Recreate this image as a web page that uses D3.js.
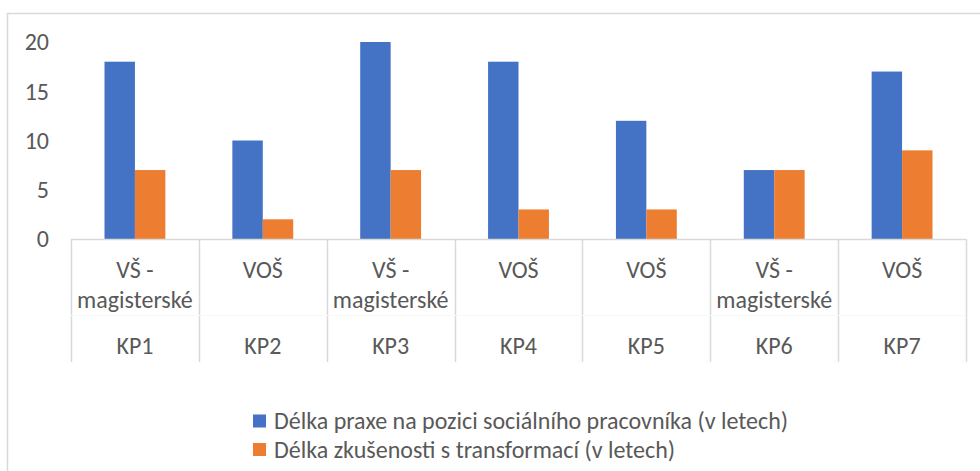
<!DOCTYPE html>
<html>
<head>
<meta charset="utf-8">
<script src="https://cdn.jsdelivr.net/npm/d3@7"></script>
<style>
  body { margin: 0; background: #fff; }
  text { font-family: Carlito, Calibri, "Liberation Sans", sans-serif; fill: #595959; }
</style>
</head>
<body>
<div id="chart"></div>
<script>
var categories = ["KP1", "KP2", "KP3", "KP4", "KP5", "KP6", "KP7"];
var education = [["VŠ -", "magisterské"], ["VOŠ"], ["VŠ -", "magisterské"], ["VOŠ"], ["VOŠ"], ["VŠ -", "magisterské"], ["VOŠ"]];
var seriesNames = ["Délka praxe na pozici sociálního pracovníka (v letech)", "Délka zkušenosti s transformací (v letech)"];
var praxe = [18, 10, 20, 18, 12, 7, 17];
var transformace = [7, 2, 7, 3, 3, 7, 9];
var yTicks = [0, 5, 10, 15, 20];
var colors = ["#4472c4", "#ed7d31"];

var width = 980, height = 471;
var svg = d3.select("#chart").append("svg")
  .attr("width", width)
  .attr("height", height);

// chart area border (cropped on the right and bottom)
svg.append("path")
  .attr("d", "M7.5," + height + "V13.5H" + width)
  .attr("fill", "none")
  .attr("stroke", "#d9d9d9")
  .attr("stroke-width", 1.5);

var y = d3.scaleLinear().domain([0, 20]).range([239, 42]);
var x = d3.scaleBand().domain(categories).range([71, 966])
  .paddingInner(0.524).paddingOuter(0.262);
var x1 = d3.scaleBand().domain([0, 1]).range([0, x.bandwidth()]);
var cell = d3.scaleBand().domain(categories).range([71, 966]);

var data = categories.map(function (c, i) {
  return { cat: c, values: [praxe[i], transformace[i]] };
});

// y tick labels
svg.selectAll(".ytick")
  .data(yTicks)
  .enter().append("text")
  .attr("class", "ytick")
  .attr("x", 49)
  .attr("y", function (d) { return y(d); })
  .attr("dy", "0.35em")
  .attr("text-anchor", "end")
  .style("font-size", "24px")
  .text(function (d) { return d; });

// bars
var groups = svg.selectAll(".grp")
  .data(data)
  .enter().append("g")
  .attr("class", "grp")
  .attr("transform", function (d) { return "translate(" + x(d.cat) + ",0)"; });

groups.selectAll("rect")
  .data(function (d) { return d.values; })
  .enter().append("rect")
  .attr("x", function (d, i) { return x1(i); })
  .attr("y", function (d) { return y(d); })
  .attr("width", x1.bandwidth())
  .attr("height", function (d) { return y(0) - y(d); })
  .attr("fill", function (d, i) { return colors[i]; });

// category axis
svg.append("line")
  .attr("x1", cell.range()[0]).attr("x2", cell.range()[1])
  .attr("y1", y(0) + 0.5).attr("y2", y(0) + 0.5)
  .attr("stroke", "#d9d9d9").attr("stroke-width", 1.5);

var bounds = categories.map(function (c) { return cell(c); }).concat([cell.range()[1]]);
svg.selectAll(".vtick")
  .data(bounds)
  .enter().append("line")
  .attr("class", "vtick")
  .attr("x1", function (d) { return Math.round(d) + 0.5; })
  .attr("x2", function (d) { return Math.round(d) + 0.5; })
  .attr("y1", y(0))
  .attr("y2", 362)
  .attr("stroke", "#d9d9d9").attr("stroke-width", 1.5);

svg.append("line")
  .attr("x1", cell.range()[0]).attr("x2", cell.range()[1])
  .attr("y1", 315.5).attr("y2", 315.5)
  .attr("stroke", "#f8f8f8").attr("stroke-width", 1);

var lab = svg.selectAll(".lab")
  .data(categories)
  .enter().append("g")
  .attr("class", "lab")
  .attr("transform", function (c) { return "translate(" + (cell(c) + cell.bandwidth() / 2) + ",0)"; });

lab.selectAll(".edu")
  .data(function (c, i) { return education[i]; })
  .enter().append("text")
  .attr("class", "edu")
  .attr("y", function (d, j) { return 270 + j * 30; })
  .attr("dy", "0.35em")
  .attr("text-anchor", "middle")
  .style("font-size", "24px")
  .text(function (d) { return d; });

lab.append("text")
  .attr("y", 346)
  .attr("dy", "0.35em")
  .attr("text-anchor", "middle")
  .style("font-size", "24px")
  .text(function (c) { return c; });

// legend
var leg = svg.selectAll(".leg")
  .data(seriesNames)
  .enter().append("g")
  .attr("class", "leg")
  .attr("transform", function (d, i) { return "translate(253," + (421 + i * 28.5) + ")"; });

leg.append("rect")
  .attr("x", 0).attr("y", -6.5)
  .attr("width", 13).attr("height", 13)
  .attr("fill", function (d, i) { return colors[i]; });

leg.append("text")
  .attr("x", 21)
  .attr("dy", "0.35em")
  .style("font-size", "24px")
  .text(function (d) { return d; });
</script>
</body>
</html>
